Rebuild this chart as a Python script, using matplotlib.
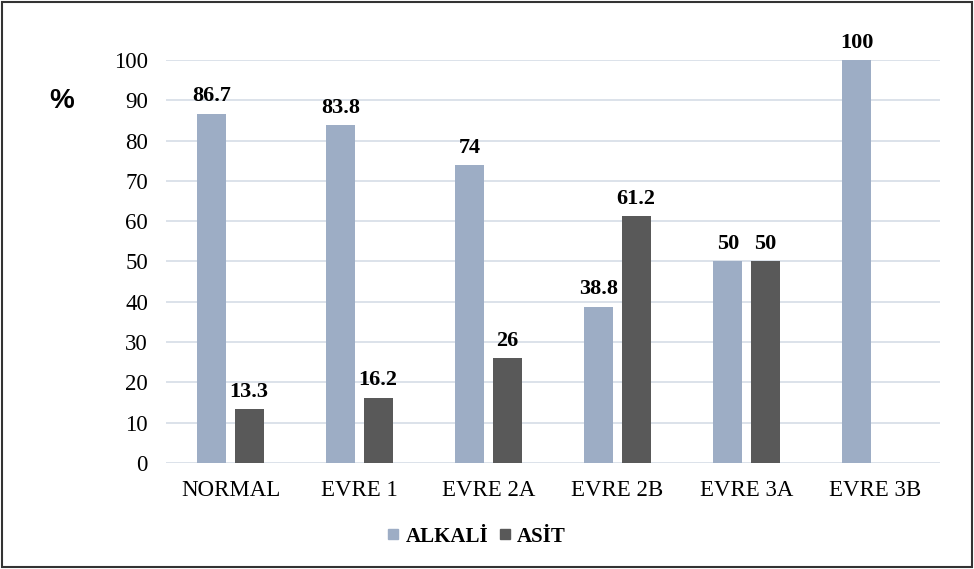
import numpy as np
import matplotlib.pyplot as plt
from matplotlib.patches import Rectangle

# evre bazinda alkali / asit yuzdeleri
stages = ["NORMAL", "EVRE 1", "EVRE 2A", "EVRE 2B", "EVRE 3A", "EVRE 3B"]
alkali = [86.7, 83.8, 74, 38.8, 50, 100]
asit = [13.3, 16.2, 26, 61.2, 50, None]
alkali_labels = ["86.7", "83.8", "74", "38.8", "50", "100"]
asit_labels = ["13.3", "16.2", "26", "61.2", "50", ""]

plt.rcParams['font.family'] = ['Liberation Serif', 'DejaVu Serif']

c_alk = "#9dadc5"
c_asit = "#595959"

fig = plt.figure(figsize=(9.74, 5.69), dpi=100)
ax = fig.add_axes([0.1704, 0.1863, 0.7946, 0.7083])

x = np.arange(len(stages))
w = 0.225
off = 0.145

for i in range(len(stages)):
    ax.bar(x[i] - off, alkali[i], w, color=c_alk, zorder=3)
    ax.text(x[i] - off, alkali[i] + 1.8, alkali_labels[i], ha="center", va="bottom",
            fontsize=16, fontweight="bold", clip_on=False)
    if asit[i] is not None:
        ax.bar(x[i] + off, asit[i], w, color=c_asit, zorder=3)
        ax.text(x[i] + off, asit[i] + 1.8, asit_labels[i], ha="center", va="bottom",
                fontsize=16, fontweight="bold", clip_on=False)

ax.set_xlim(-0.5, len(stages) - 0.5)
ax.set_ylim(0, 100)
ax.set_yticks(range(0, 101, 10))
ax.set_xticks(x)
ax.set_xticklabels(stages, fontsize=16.5)
ax.tick_params(axis="y", labelsize=16.5, length=0, pad=13)
ax.tick_params(axis="x", length=0, pad=12)
ax.grid(axis="y", color="#d5dde6", linewidth=1.2, zorder=0)
for s in ax.spines.values():
    s.set_visible(False)

fig.text(0.063, 0.823, "%", fontsize=20, fontweight="bold", family="Liberation Sans",
         ha="center", va="center")

# legend
h1 = plt.Line2D([], [], marker="s", linestyle="", color=c_alk, markersize=7)
h2 = plt.Line2D([], [], marker="s", linestyle="", color=c_asit, markersize=7)
fig.legend([h1, h2], ["ALKALİ", "ASİT"], loc="center", bbox_to_anchor=(0.488, 0.057),
           ncol=2, frameon=False, prop={"size": 15, "weight": "bold"},
           handlelength=0.8, handletextpad=0.2, columnspacing=0.4)

fig.patches.append(Rectangle((0.002, 0.003), 0.996, 0.993, transform=fig.transFigure,
                             fill=False, edgecolor="#333333", linewidth=1.5))

plt.savefig("out.png", dpi=100)
